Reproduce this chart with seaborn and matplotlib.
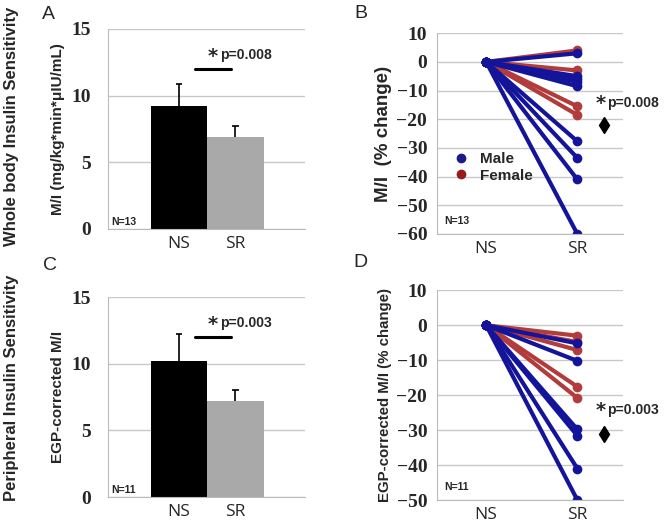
import pandas as pd
import numpy as np
import seaborn as sns
import matplotlib.pyplot as plt
from matplotlib.lines import Line2D

# bar panels (A, C)
groups = ['NS', 'SR']
mi_mean = [9.2, 6.9]
mi_err = [1.7, 0.8]
egp_mean = [10.2, 7.2]
egp_err = [2.0, 0.8]

# individual % change at SR (NS = 0)
b_male = [3.0, -5.0, -6.0, -7.0, -8.5, -27.7, -33.5, -41.0, -60.0]
b_female = [4.0, -3.0, -15.5, -18.5]
d_male = [-5.2, -10.2, -29.8, -31.6, -41.0, -50.0]
d_female = [-3.0, -4.8, -7.1, -17.6, -20.8]

blue = '#14149a'
red = '#b23c3c'
tick_font = dict(family='Liberation Serif', weight='bold', size=14)
cat_font = dict(family='Open Sans', size=12.5)

sns.set_style('white')
fig = plt.figure(figsize=(6.67, 5.27), dpi=100)


def style_axes(ax, ypad):
    ax.grid(axis='y', color='#c8c8c8', lw=1)
    ax.set_axisbelow(True)
    for s in ['top', 'right']:
        ax.spines[s].set_visible(False)
    ax.spines['left'].set_color('#bbbbbb')
    ax.spines['bottom'].set_color('#bbbbbb')
    ax.tick_params(axis='y', length=0, pad=ypad)
    ax.tick_params(axis='x', length=0, pad=5)
    for t in ax.get_yticklabels():
        t.set(**tick_font)
    for t in ax.get_xticklabels():
        t.set(**cat_font)


def bar_panel(ax, means, errs, ylabel, ntext, ptext):
    sns.barplot(x=groups, y=means, hue=groups, palette=['black', '#a9a9a9'],
                width=1.0, legend=False, ax=ax, edgecolor='none')
    tops = np.array(means) + np.array(errs)
    ax.vlines([0, 1], means, tops, color='black', lw=1.2)
    ax.hlines(tops, [-0.06, 0.94], [0.06, 1.06], color='black', lw=1.2)
    ax.set_xlim(-1.26, 2.23)
    ax.set_ylim(0, 15)
    ax.set_yticks([0, 5, 10, 15])
    ax.set_ylabel(ylabel, fontsize=11, fontweight='bold', family='Liberation Sans', labelpad=5)
    style_axes(ax, 12)
    ax.plot([0.28, 0.92], [12.0, 12.0], color='black', lw=2.2)
    ax.text(0.6, 12.95, '*', fontsize=14, fontweight='bold', ha='center', va='center')
    ax.text(0.73, 13.05, ptext, fontsize=10, fontweight='bold', family='Liberation Sans', va='center')
    ax.text(-1.2, 0.3, ntext, fontsize=7.5, fontweight='bold', family='Liberation Sans')


def line_panel(ax, male, female, ylim, yticks, ylabel, ylsize, ntext, ptext, ptext_y, diam_y, legend):
    rows = []
    sid = 0
    for sex, vals in [('Female', female), ('Male', male)]:
        for v in vals:
            rows.append((sid, 'NS', 0.0, sex))
            rows.append((sid, 'SR', v, sex))
            sid += 1
    df = pd.DataFrame(rows, columns=['subject', 'cond', 'value', 'sex'])
    sns.lineplot(data=df, x='cond', y='value', hue='sex', units='subject', estimator=None,
                 palette={'Male': blue, 'Female': red}, marker='o', markersize=7,
                 markeredgewidth=0, lw=3, legend=False, ax=ax)
    ax.set_xlim(-0.54, 1.5)
    ax.set_ylim(*ylim)
    ax.set_yticks(yticks)
    ax.set_xlabel('')
    ax.set_ylabel(ylabel, fontsize=ylsize, fontweight='bold', family='Liberation Sans', labelpad=3)
    style_axes(ax, 7)
    ax.plot([1.29], [diam_y], marker='d', color='black', markersize=8, clip_on=False)
    ax.text(1.26, ptext_y, '*', fontsize=14, fontweight='bold', ha='center', va='center', clip_on=False)
    ax.text(1.32, ptext_y + 0.3, ptext, fontsize=10, fontweight='bold', family='Liberation Sans',
            va='center', clip_on=False)
    ax.text(0.04, 0.05, ntext, transform=ax.transAxes, fontsize=7.5, fontweight='bold', family='Liberation Sans')
    if legend:
        handles = [Line2D([], [], ls='none', marker='o', color='#1a1a8c', markersize=6),
                   Line2D([], [], ls='none', marker='o', color='#9a1a1a', markersize=6)]
        ax.legend(handles, ['Male', 'Female'], loc='lower left', bbox_to_anchor=(0.0, 0.21),
                  frameon=False, handletextpad=0.2, labelspacing=0.15, borderaxespad=0.2,
                  prop=dict(family='Liberation Sans', weight='bold', size=11))


axA = fig.add_axes([0.162, 0.5655, 0.295, 0.3795])
bar_panel(axA, mi_mean, mi_err, 'M/I (mg/kg*min*μIU/mL)', 'N=13', 'p=0.008')
axC = fig.add_axes([0.162, 0.0569, 0.295, 0.3795])
bar_panel(axC, egp_mean, egp_err, 'EGP-corrected M/I', 'N=11', 'p=0.003')

axB = fig.add_axes([0.655, 0.556, 0.279, 0.381])
line_panel(axB, b_male, b_female, (-60, 10), range(-60, 11, 10), 'M/I  (% change)', 13.5,
           'N=13', 'p=0.008', -14.5, -22.0, True)
axD = fig.add_axes([0.655, 0.0512, 0.279, 0.398])
line_panel(axD, d_male, d_female, (-50, 10), range(-50, 11, 10), 'EGP-corrected M/I (% change)', 10.8,
           'N=11', 'p=0.003', -24.5, -31.0, False)

# panel letters and row labels
for lab, x, y in [('A', 0.072, 0.972), ('B', 0.541, 0.975), ('C', 0.075, 0.497), ('D', 0.54, 0.502)]:
    fig.text(x, y, lab, fontsize=14, family='Liberation Sans', ha='center', va='center')
fig.text(0.017, 0.76, 'Whole body Insulin Sensitivity', rotation=90, fontsize=12,
         fontweight='bold', family='Liberation Sans', ha='center', va='center')
fig.text(0.017, 0.264, 'Peripheral Insulin Sensitivity', rotation=90, fontsize=12,
         fontweight='bold', family='Liberation Sans', ha='center', va='center')

fig.savefig('out.png', dpi=100)
